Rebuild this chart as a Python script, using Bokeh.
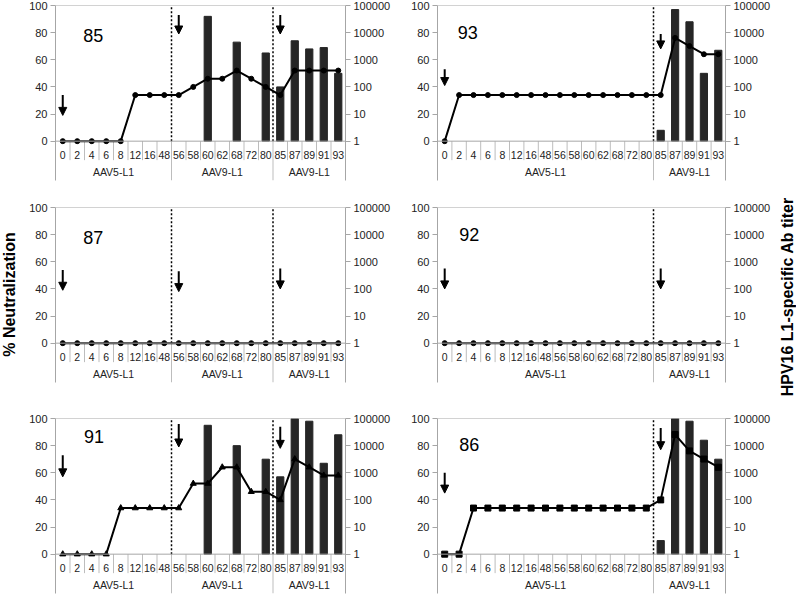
import math
from bokeh.plotting import figure
from bokeh.models import (FactorRange, Range1d, LogAxis, LogScale, FixedTicker,
                          NumeralTickFormatter, Span, Arrow, NormalHead, Label)
from bokeh.layouts import row, column
from bokeh.core.properties import value
from bokeh.embed import file_html
from bokeh.resources import INLINE

# ---------------- data ----------------
weeks = ["0", "2", "4", "6", "8", "12", "16", "48", "56", "58",
         "60", "62", "68", "72", "80", "85", "87", "89", "91", "93"]

groups_three = [("AAV5-L1", 8), ("AAV9-L1", 7), ("AAV9-L1", 5)]
groups_two = [("AAV5-L1", 15), ("AAV9-L1", 5)]

neut_ticks = [0, 20, 40, 60, 80, 100]
titer_ticks = [1, 10, 100, 1000, 10000, 100000]

# % neutralization (bars)
neut_85 = [0, 0, 0, 0, 0, 0, 0, 0, 0, 0, 92, 0, 73, 0, 65, 40, 74, 68, 69, 50]
neut_93 = [0, 0, 0, 0, 0, 0, 0, 0, 0, 0, 0, 0, 0, 0, 0, 8, 97, 88, 50, 67]
neut_87 = [0] * 20
neut_92 = [0] * 20
neut_91 = [0, 0, 0, 0, 0, 0, 0, 0, 0, 0, 95, 0, 80, 0, 70, 57, 100, 98, 67, 88]
neut_86 = [0, 0, 0, 0, 0, 0, 0, 0, 0, 0, 0, 0, 0, 0, 0, 10, 100, 98, 84, 70]

# HPV16 L1-specific Ab titer (line)
titer_85 = [1, 1, 1, 1, 1, 50, 50, 50, 50, 100, 200, 200, 400, 200, 100, 50, 400, 400, 400, 400]
titer_93 = [1, 50, 50, 50, 50, 50, 50, 50, 50, 50, 50, 50, 50, 50, 50, 50, 6400, 3200, 1600, 1600]
titer_87 = [1] * 20
titer_92 = [1] * 20
titer_91 = [1, 1, 1, 1, 50, 50, 50, 50, 50, 400, 400, 1600, 1600, 200, 200, 100, 3200, 1600, 800, 800]
titer_86 = [1, 1, 50, 50, 50, 50, 50, 50, 50, 50, 50, 50, 50, 50, 50, 100, 25600, 6400, 3200, 1600]

# immunization arrows: (week, arrow top, arrow tip) in % neutralization units
arrows_85 = [("0", 34, 19), ("56", 93, 79), ("85", 93, 79)]
arrows_93 = [("0", 53, 41), ("85", 79, 68)]
arrows_87 = [("0", 54, 39), ("56", 53, 38), ("85", 55, 40)]
arrows_92 = [("0", 55, 40), ("85", 55, 40)]
arrows_91 = [("0", 73, 57), ("56", 96, 79), ("85", 94, 78)]
arrows_86 = [("0", 60, 45), ("85", 93, 77)]

# ---------------- styling ----------------
FONT = "Liberation Sans"
GRAY = "#a6a6a6"
SEP = "#bdbdbd"
BAR = "#262626"
Y_LO = -29
CAT_Y = -10
CAT_SEP_Y = -14
GROUP_Y = -23

row_heights = [195, 205, 194]
row_top = [5, 12, 18]
row_bottom = [15, 18, 1]


def make_panel(pid, neut, titer, groups, arrows, marker, label_xy, col, r):
    left = col == 0
    p = figure(width=382 if left else 378, height=row_heights[r],
               x_range=FactorRange(*weeks, range_padding=0),
               y_range=Range1d(Y_LO, 100),
               x_axis_location=None,
               toolbar_location=None, output_backend="svg",
               min_border_left=37,
               min_border_right=55 if left else 53,
               min_border_top=row_top[r], min_border_bottom=row_bottom[r],
               outline_line_color=None, background_fill_color="white")
    p.grid.visible = False

    # left axis (% neutralization)
    ax = p.yaxis[0]
    ax.ticker = FixedTicker(ticks=neut_ticks)
    ax.major_tick_in = 0
    ax.major_tick_out = 5
    ax.minor_tick_line_color = None
    ax.axis_line_color = GRAY
    ax.major_tick_line_color = GRAY
    ax.major_label_text_font = FONT
    ax.major_label_text_font_size = "11px"
    ax.major_label_text_color = "#222222"
    ax.major_label_standoff = 3

    # right axis (log titer), aligned so that 1 -> 0 % and 1e5 -> 100 %
    p.extra_y_ranges = {"titer": Range1d(10 ** (Y_LO / 20.0), 10 ** (100 / 20.0))}
    p.extra_y_scales = {"titer": LogScale()}
    rax = LogAxis(y_range_name="titer", ticker=FixedTicker(ticks=titer_ticks),
                  formatter=NumeralTickFormatter(format="0"))
    rax.major_tick_in = 0
    rax.major_tick_out = 5
    rax.minor_tick_line_color = None
    rax.axis_line_color = GRAY
    rax.major_tick_line_color = GRAY
    rax.major_label_text_font = FONT
    rax.major_label_text_font_size = "11px"
    rax.major_label_text_color = "#222222"
    rax.major_label_standoff = 3
    p.add_layout(rax, "right")

    # frame lines at 0 and 100
    p.add_layout(Span(location=0, dimension="width", line_color=GRAY, line_width=1))
    p.add_layout(Span(location=100, dimension="width", line_color=GRAY, line_width=1))

    # category separators and labels
    n = len(weeks)
    bounds = []
    acc = 0
    for name, cnt in groups:
        acc += cnt
        bounds.append(acc)
    inner = [i for i in range(1, n) if i not in bounds]
    p.segment(x0=inner, y0=[0] * len(inner), x1=inner, y1=[CAT_SEP_Y] * len(inner),
              line_color=SEP, line_width=1)
    gb = bounds[:-1]
    p.segment(x0=gb, y0=[0] * len(gb), x1=gb, y1=[Y_LO] * len(gb),
              line_color=SEP, line_width=1)
    p.segment(x0=gb, y0=[0] * len(gb), x1=gb, y1=[100] * len(gb),
              line_color="black", line_width=1.5, line_dash="2 2")
    p.text(x=weeks, y=[CAT_Y] * n, text=weeks, text_font=value(FONT),
           text_font_size="10.5px", text_color="#222222",
           text_align="center", text_baseline="middle")
    starts = [0] + bounds[:-1]
    gx = [s + cnt / 2.0 for s, (name, cnt) in zip(starts, groups)]
    p.text(x=gx, y=[GROUP_Y] * len(groups), text=[g[0] for g in groups],
           text_font=value(FONT), text_font_size="10.5px", text_color="#222222",
           text_align="center", text_baseline="middle")

    # bars
    bx = [w for w, v in zip(weeks, neut) if v > 0]
    bt = [v for v in neut if v > 0]
    if bx:
        p.vbar(x=bx, top=bt, bottom=0, width=0.5, fill_color=BAR, line_color=BAR)

    # titer line
    p.line(x=weeks, y=titer, y_range_name="titer", line_color="black", line_width=2)
    p.scatter(x=weeks, y=titer, y_range_name="titer", marker=marker,
              size=5 if marker == "circle" else 6,
              fill_color="black", line_color="black")

    # arrows
    for wk, y0, y1 in arrows:
        xi = weeks.index(wk) + 0.5
        p.add_layout(Arrow(x_start=xi, y_start=y0, x_end=xi, y_end=y1,
                           line_color="black", line_width=2,
                           end=NormalHead(size=8, fill_color="black",
                                          line_color="black")))

    # panel id
    p.add_layout(Label(x=label_xy[0], y=label_xy[1], text=pid,
                       text_font=FONT, text_font_size="18px", text_color="black",
                       text_align="center", text_baseline="middle"))
    return p


p85 = make_panel("85", neut_85, titer_85, groups_three, arrows_85, "circle", (2.6, 78), 0, 0)
p93 = make_panel("93", neut_93, titer_93, groups_two, arrows_93, "circle", (2.1, 80), 1, 0)
p87 = make_panel("87", neut_87, titer_87, groups_three, arrows_87, "circle", (2.6, 78), 0, 1)
p92 = make_panel("92", neut_92, titer_92, groups_two, arrows_92, "circle", (2.2, 80), 1, 1)
p91 = make_panel("91", neut_91, titer_91, groups_three, arrows_91, "triangle", (2.65, 87), 0, 2)
p86 = make_panel("86", neut_86, titer_86, groups_two, arrows_86, "square", (2.2, 81), 1, 2)


def title_fig(text, w):
    f = figure(width=w, height=594, x_range=Range1d(0, 1), y_range=Range1d(0, 1),
               x_axis_location=None, y_axis_location=None,
               toolbar_location=None, output_backend="svg", min_border=0,
               outline_line_color=None)
    f.grid.visible = False
    f.add_layout(Label(x=0.5, y=0.505, text=text, angle=math.pi / 2,
                       text_font=FONT, text_font_size="16px", text_font_style="bold",
                       text_color="black", text_align="center", text_baseline="middle"))
    return f


left_title = title_fig("% Neutralization", 18)
right_title = title_fig("HPV16 L1-specific  Ab titer", 18)

grid = column(row(p85, p93), row(p87, p92), row(p91, p86))
layout = row(left_title, grid, right_title)

with open("out.html", "w") as fh:
    fh.write(file_html(layout, INLINE))
